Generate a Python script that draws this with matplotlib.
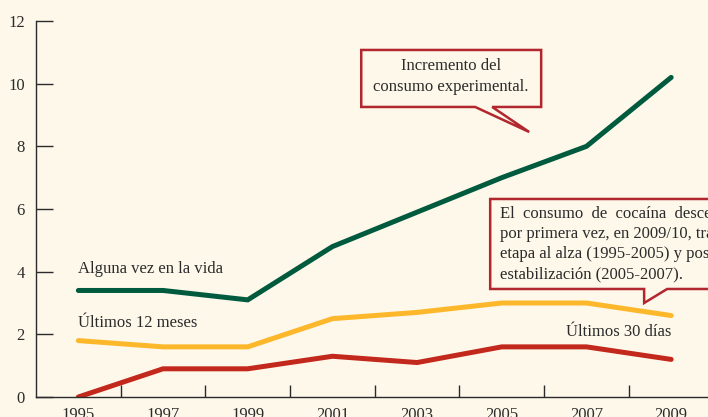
import matplotlib.pyplot as plt
from matplotlib.patches import Polygon
from matplotlib.ticker import FixedLocator

years = [1995, 1997, 1999, 2001, 2003, 2005, 2007, 2009]
alguna_vez = [3.4, 3.4, 3.1, 4.8, 5.9, 7.0, 8.0, 10.2]
ultimos_12 = [1.8, 1.6, 1.6, 2.5, 2.7, 3.0, 3.0, 2.6]
ultimos_30 = [0.0, 0.9, 0.9, 1.3, 1.1, 1.6, 1.6, 1.2]
y_ticks = [0, 2, 4, 6, 8, 10, 12]

bg = "#fdf8ea"
green = "#005a3e"
yellow = "#fdb72b"
red = "#c3281c"
box_red = "#b2262e"
ink = "#2b2b2b"

plt.rcParams['font.family'] = ['Liberation Serif', 'DejaVu Serif']
fs = 12

fig = plt.figure(figsize=(7.08, 4.17), dpi=100, facecolor=bg)
ax = fig.add_axes([36 / 708, 20 / 417, 1 - 36 / 708, 376 / 417], facecolor=bg)

ax.plot(years, alguna_vez, color=green, lw=3.6, solid_capstyle='round', solid_joinstyle='miter')
ax.plot(years, ultimos_12, color=yellow, lw=3.6, solid_capstyle='round', solid_joinstyle='miter')
ax.plot(years, ultimos_30, color=red, lw=3.6, solid_capstyle='round', solid_joinstyle='miter')

ax.set_xlim(1994.0, 2009.87)
ax.set_ylim(0, 12)

for s in ['top', 'right']:
    ax.spines[s].set_visible(False)
for s in ['left', 'bottom']:
    ax.spines[s].set_color(ink)
    ax.spines[s].set_linewidth(1.0)

ax.set_yticks(y_ticks)
ax.tick_params(axis='y', direction='in', length=12, width=1.0, color=ink,
               labelsize=fs, labelcolor=ink, pad=8)
ax.set_xticks(years)
ax.xaxis.set_minor_locator(FixedLocator([1996, 1998, 2000, 2002, 2004, 2006, 2008]))
ax.tick_params(axis='x', which='major', length=0, labelsize=fs, labelcolor=ink, pad=7)
ax.tick_params(axis='x', which='minor', direction='in', length=9, width=1.0, color=ink)

# series labels
ax.text(1995.0, 4.1, "Alguna vez en la vida", fontsize=fs, color=ink, va='center', ha='left')
ax.text(1995.0, 2.36, "Últimos 12 meses", fontsize=fs, color=ink, va='center', ha='left')
ax.text(2009.0, 2.07, "Últimos 30 días", fontsize=fs, color=ink, va='center', ha='right')


def px(x, y):
    return (1995 + (x - 78) / 42.36, (397 - y) / 31.33)


# callout 1
c1 = [px(361, 50), px(541, 50), px(541, 107), px(492, 107), px(529, 132),
      px(475, 107), px(361, 107)]
ax.add_patch(Polygon(c1, closed=True, facecolor=bg, edgecolor=box_red, lw=1.8,
                     joinstyle='miter', zorder=5, clip_on=False))
cx, cy = px(451, 66)
ax.text(cx, cy, "Incremento del", fontsize=fs, color=ink, ha='center', va='center', zorder=6)
cx, cy = px(451, 87)
ax.text(cx, cy, "consumo experimental.", fontsize=fs, color=ink, ha='center', va='center', zorder=6)

# callout 2 (runs off the right edge, as in the original)
c2 = [px(490, 199), px(760, 199), px(760, 289), px(667, 289), px(644, 303),
      px(644, 289), px(490, 289)]
ax.add_patch(Polygon(c2, closed=True, facecolor=bg, edgecolor=box_red, lw=1.8,
                     joinstyle='miter', zorder=5, clip_on=False))
lines2 = ["El  consumo  de  cocaína  descendió",
          "por primera vez, en 2009/10, tras una",
          "etapa al alza (1995-2005) y posterior",
          "estabilización (2005-2007)."]
for i, t in enumerate(lines2):
    tx, ty = px(500, 214 + i * 20)
    ax.text(tx, ty, t, fontsize=fs, color=ink, ha='left', va='center', zorder=6)

fig.savefig("out.png", dpi=100, facecolor=bg)
